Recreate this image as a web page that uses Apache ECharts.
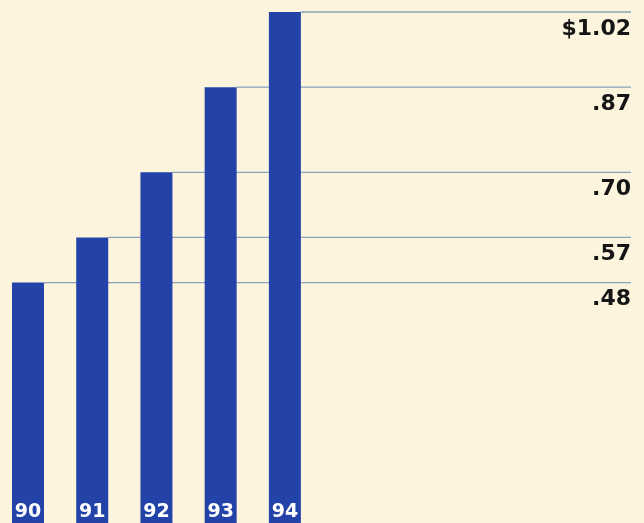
<!DOCTYPE html>
<html>
<head>
<meta charset="utf-8">
<script src="https://cdn.jsdelivr.net/npm/echarts@6/dist/echarts.min.js"></script>
<style>
html,body{margin:0;padding:0;background:#fcf4dc;}
#chart{width:644px;height:523px;}
</style>
</head>
<body>
<div id="chart"></div>
<script>
var years = ['90', '91', '92', '93', '94'];
var values = [0.48, 0.57, 0.70, 0.87, 1.02];
var valueLabels = ['.48', '.57', '.70', '.87', '$1.02'];

var chart = echarts.init(document.getElementById('chart'), null, {renderer: 'canvas'});

var option = {
  backgroundColor: '#fcf4dc',
  animation: false,
  grid: {left: 0, top: 2, width: 317, bottom: -3, containLabel: false},
  xAxis: {
    type: 'value',
    min: -0.4358,
    max: 4.5,
    axisLine: {show: false},
    axisTick: {show: false},
    axisLabel: {show: false},
    splitLine: {show: false}
  },
  yAxis: {
    type: 'value',
    min: 0,
    max: 1.04,
    axisLine: {show: false},
    axisTick: {show: false},
    axisLabel: {show: false},
    splitLine: {show: false}
  },
  series: [
    {
      type: 'custom',
      z: 1,
      clip: false,
      data: values.map(function (v, i) { return [i, v]; }),
      renderItem: function (params, api) {
        var i = api.value(0);
        var v = api.value(1);
        var p = api.coord([i, v]);
        var bw = 32;
        var xEnd = api.getWidth() - 13;
        return {
          type: 'group',
          children: [
            {
              type: 'line',
              shape: {x1: p[0] + bw / 2, y1: p[1], x2: xEnd, y2: p[1]},
              style: {stroke: '#8aa3bd', lineWidth: 1.3}
            },
            {
              type: 'text',
              x: xEnd,
              y: p[1] + 17,
              style: {
                text: valueLabels[params.dataIndex],
                align: 'right',
                verticalAlign: 'middle',
                fill: '#151515',
                font: 'bold 22px "DejaVu Sans"'
              }
            }
          ]
        };
      }
    },
    {
      type: 'bar',
      z: 2,
      data: values.map(function (v, i) { return [i, v]; }),
      barWidth: 32,
      itemStyle: {color: '#2343a8'},
      label: {
        show: true,
        position: 'insideBottom',
        distance: 1,
        formatter: function (p) { return years[p.dataIndex]; },
        color: '#ffffff',
        fontFamily: 'DejaVu Sans',
        fontWeight: 'bold',
        fontSize: 19
      }
    }
  ]
};
chart.setOption(option);
</script>
</body>
</html>
